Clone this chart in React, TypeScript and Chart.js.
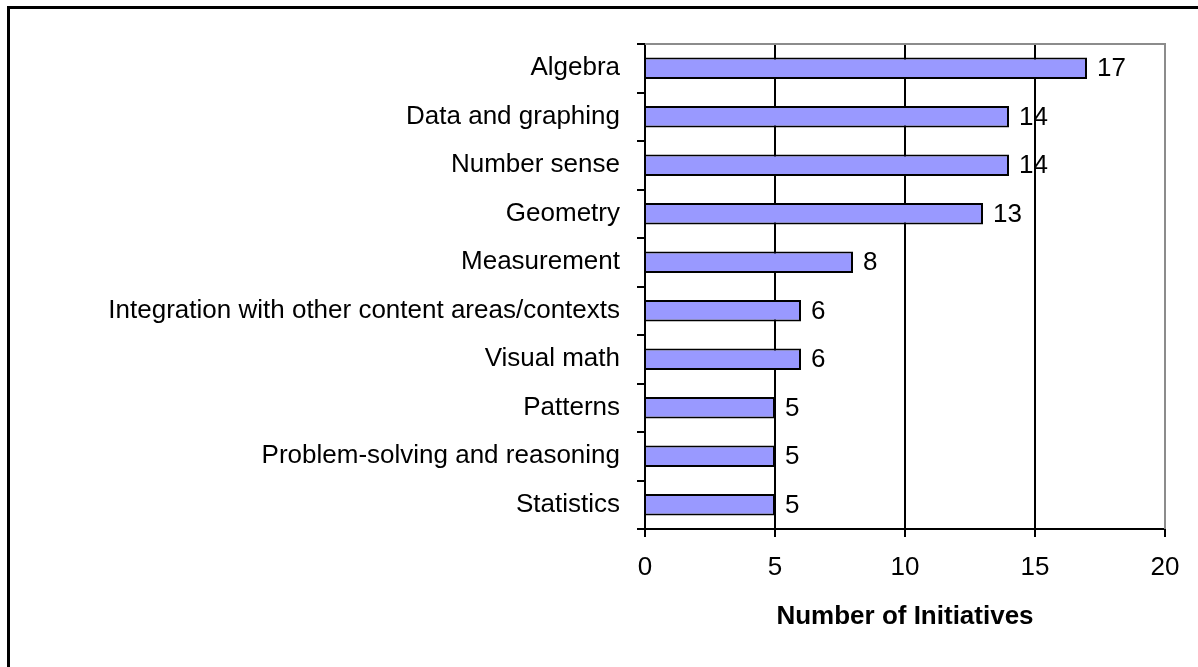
import React, { useEffect, useRef } from "react";
import { Chart, registerables } from "chart.js";

Chart.register(...registerables);

const categories = [
  "Algebra",
  "Data and graphing",
  "Number sense",
  "Geometry",
  "Measurement",
  "Integration with other content areas/contexts",
  "Visual math",
  "Patterns",
  "Problem-solving and reasoning",
  "Statistics",
];
const initiatives = [17, 14, 14, 13, 8, 6, 6, 5, 5, 5];
const xTicks = [0, 5, 10, 15, 20];
const xTitle = "Number of Initiatives";

const FONT = '"Liberation Sans", Arial, sans-serif';

const framePlugin = {
  id: "plotFrame",
  beforeDatasetsDraw(chart: any) {
    const { ctx, chartArea } = chart;
    ctx.save();
    ctx.strokeStyle = "#8c8c8c";
    ctx.lineWidth = 2;
    ctx.beginPath();
    ctx.moveTo(chartArea.left, chartArea.top);
    ctx.lineTo(chartArea.right, chartArea.top);
    ctx.lineTo(chartArea.right, chartArea.bottom);
    ctx.stroke();
    ctx.restore();
  },
};

const valueLabelPlugin = {
  id: "valueLabels",
  afterDatasetsDraw(chart: any) {
    const { ctx } = chart;
    const meta = chart.getDatasetMeta(0);
    const data = chart.data.datasets[0].data;
    ctx.save();
    ctx.font = `26px ${FONT}`;
    ctx.fillStyle = "#000";
    ctx.textAlign = "left";
    ctx.textBaseline = "middle";
    meta.data.forEach((bar: any, i: number) => {
      ctx.fillText(String(data[i]), bar.x + 10, bar.y + 1);
    });
    ctx.restore();
  },
};

export default function App() {
  const ref = useRef<HTMLCanvasElement>(null);

  useEffect(() => {
    if (!ref.current) return;
    const chart = new Chart(ref.current, {
      type: "bar",
      data: {
        labels: categories,
        datasets: [
          {
            data: initiatives,
            backgroundColor: "#9999FF",
            borderColor: "#000",
            borderWidth: 2,
            barPercentage: 0.44,
            categoryPercentage: 1,
          },
        ],
      },
      options: {
        indexAxis: "y",
        responsive: false,
        animation: false,
        devicePixelRatio: 1,
        layout: { padding: { top: 44, right: 33, left: 0, bottom: 0 } },
        plugins: {
          legend: { display: false },
          tooltip: { enabled: false },
        },
        scales: {
          x: {
            type: "linear",
            min: 0,
            max: 20,
            afterBuildTicks: (scale: any) => {
              scale.ticks = xTicks.map((v) => ({ value: v }));
            },
            afterFit: (scale: any) => {
              scale.height = 138;
            },
            ticks: {
              color: "#000",
              font: { family: FONT, size: 26 },
              padding: 15,
              maxRotation: 0,
            },
            grid: {
              color: (c: any) => (c.tick && c.tick.value === 20 ? "#8c8c8c" : "#000"),
              tickColor: "#000",
              lineWidth: 2,
              tickLength: 8,
              drawOnChartArea: true,
            },
            border: { display: true, color: "#000", width: 2 },
            title: {
              display: true,
              text: xTitle,
              color: "#000",
              font: { family: FONT, size: 26, weight: "bold" },
              padding: { top: 0, bottom: 35 },
            },
          },
          y: {
            type: "category",
            afterFit: (scale: any) => {
              scale.width = 645;
            },
            ticks: {
              color: "#000",
              font: { family: FONT, size: 26 },
              padding: 17,
              autoSkip: false,
            },
            grid: {
              offset: true,
              drawOnChartArea: false,
              drawTicks: true,
              tickLength: 8,
              color: "#000",
              lineWidth: 2,
            },
            border: { display: true, color: "#000", width: 2 },
          },
        },
      },
      plugins: [framePlugin, valueLabelPlugin],
    } as any);
    return () => chart.destroy();
  }, []);

  return (
    <div
      style={{
        position: "fixed",
        left: 0,
        top: 0,
        width: 1198,
        height: 667,
        overflow: "hidden",
        background: "#fff",
      }}
    >
      <div
        style={{
          position: "absolute",
          left: 7,
          top: 6,
          width: 1400,
          height: 900,
          border: "3px solid #000",
        }}
      />
      <canvas
        ref={ref}
        width={1198}
        height={667}
        style={{ position: "absolute", left: 0, top: 0, width: 1198, height: 667 }}
      />
    </div>
  );
}
